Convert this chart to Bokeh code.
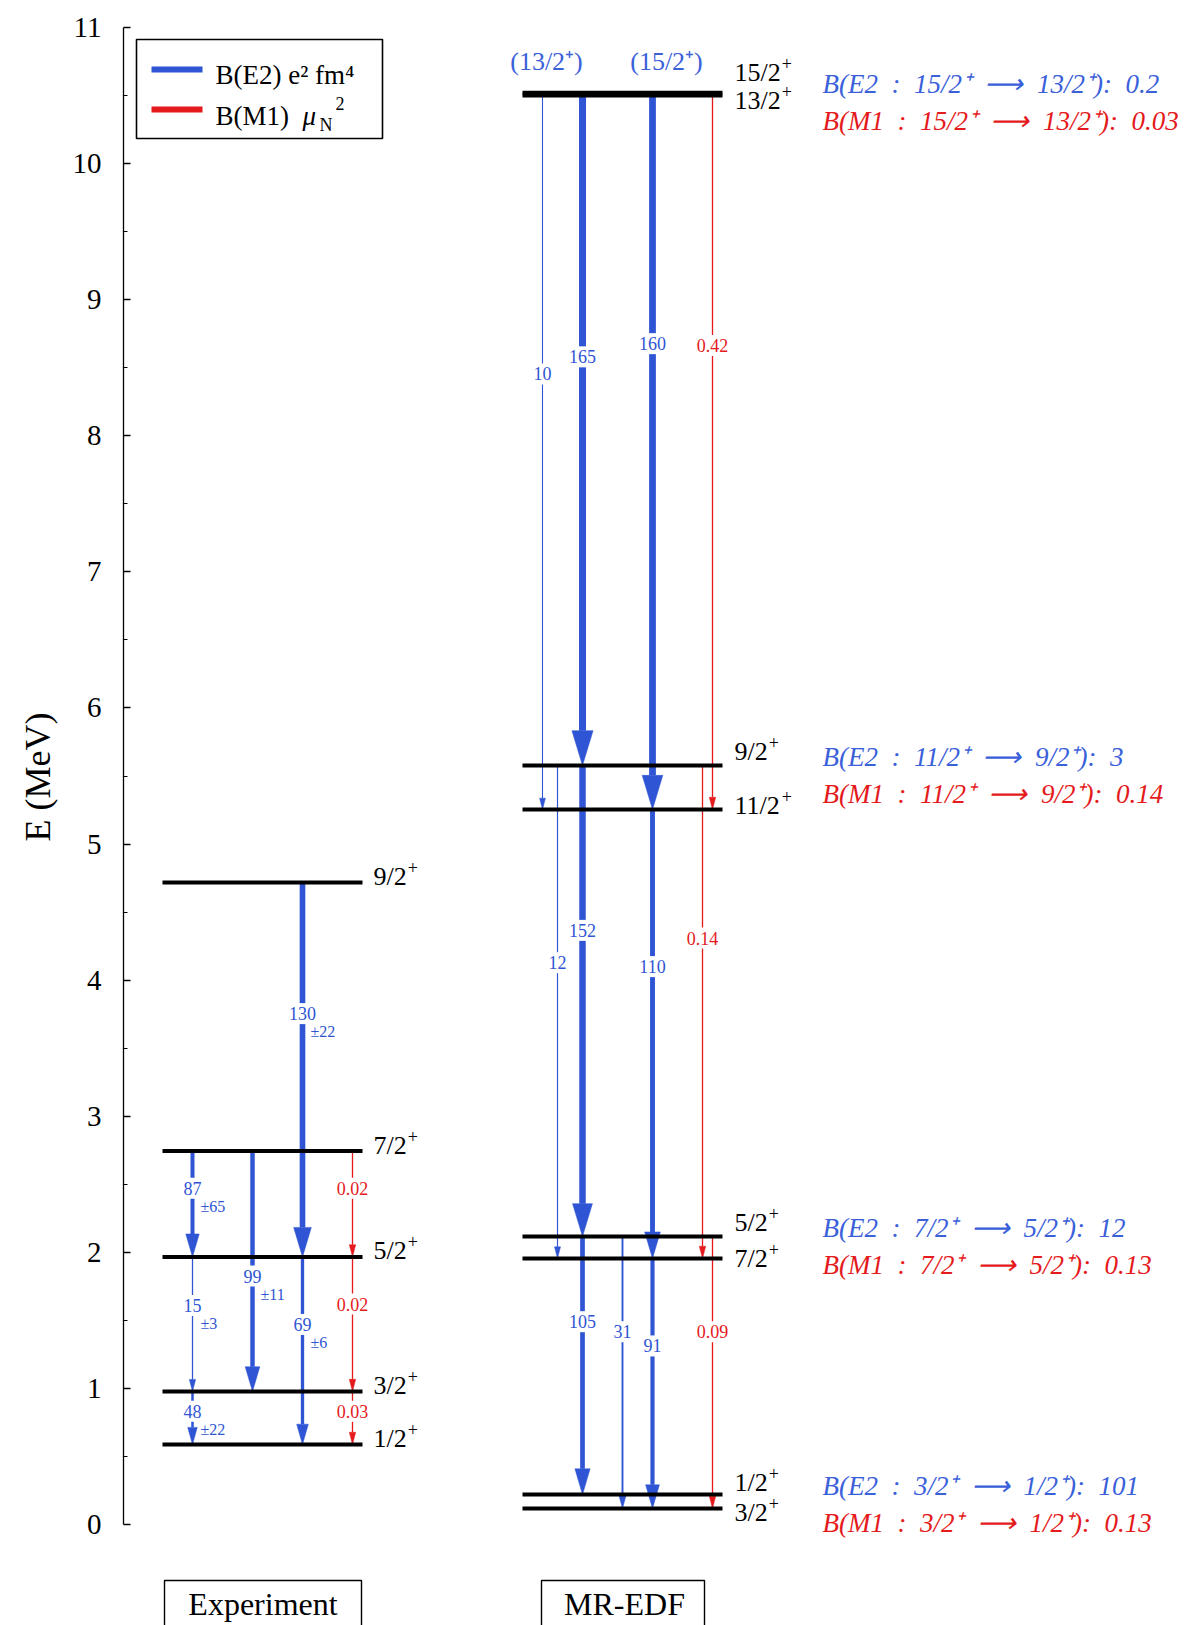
import math
from bokeh.plotting import figure
from bokeh.models import ColumnDataSource, Range1d, FixedTicker, Title
from bokeh.embed import file_html
from bokeh.resources import INLINE
from bokeh.core.properties import value

# ---------------- data ----------------
exp_levels = ["1/2", "3/2", "5/2", "7/2", "9/2"]
exp_energy = [0.588, 0.977, 1.966, 2.744, 4.717]

mr_levels = ["3/2", "1/2", "7/2", "5/2", "11/2", "9/2", "13/2", "15/2"]
mr_energy = [0.118, 0.220, 1.955, 2.116, 5.254, 5.577, 10.50, 10.52]

exp_from = ["9/2", "7/2", "7/2", "7/2", "5/2", "5/2", "5/2", "3/2", "3/2"]
exp_to = ["5/2", "5/2", "3/2", "5/2", "3/2", "1/2", "3/2", "1/2", "1/2"]
exp_type = ["E2", "E2", "E2", "M1", "E2", "E2", "M1", "E2", "M1"]
exp_value = ["130", "87", "99", "0.02", "15", "69", "0.02", "48", "0.03"]
exp_error = ["±22", "±65", "±11", "", "±3", "±6", "", "±22", ""]

mr_from = ["13/2", "13/2", "15/2", "13/2", "9/2", "9/2", "11/2", "9/2", "5/2", "5/2", "7/2", "5/2"]
mr_to = ["11/2", "9/2", "11/2", "11/2", "7/2", "5/2", "7/2", "7/2", "1/2", "3/2", "3/2", "3/2"]
mr_type = ["E2", "E2", "E2", "M1", "E2", "E2", "E2", "M1", "E2", "E2", "E2", "M1"]
mr_value = ["10", "165", "160", "0.42", "12", "152", "110", "0.14", "105", "31", "91", "0.09"]

ann_initial = ["15/2", "11/2", "7/2", "3/2"]
ann_final = ["13/2", "9/2", "5/2", "1/2"]
ann_be2 = ["0.2", "3", "12", "101"]
ann_bm1 = ["0.03", "0.14", "0.13", "0.13"]

header_levels = ["13/2", "15/2"]

# ---------------- layout / style ----------------
BLUE = "#2F55D4"
BLUE_T = "#3A60DA"
RED = "#E41A1C"
FONT = value("Liberation Serif")
W, H = 1190, 1625

YPIX = 136.09          # pixels per MeV
Y0_PAGE = 1524         # page y of E = 0
X0_PAGE = 123          # page x of frame left


def py(page_y):
    return (Y0_PAGE - page_y) / YPIX


def px(page_x):
    return page_x - X0_PAGE


E_TOP, E_BOT = py(0), py(H)

exp_x = (px(162), px(362))
mr_x = (px(522), px(722))
exp_lanes = [px(v) for v in (302, 192, 252, 352, 192, 302, 352, 192, 352)]
mr_lanes = [px(v) for v in (542, 582, 652, 712, 557, 582, 652, 702, 582, 622, 652, 712)]
exp_frac = [0.35, 0.35, 0.52, 0.35, 0.36, 0.36, 0.35, 0.37, 0.37]
mr_frac = [0.39, 0.39, 0.35, 0.35, 0.40, 0.35, 0.35, 0.35, 0.33, 0.35, 0.35, 0.35]
# vertical offset (px) of each level label's centre relative to its level line
mr_label_dy = {"15/2": -20, "13/2": 5, "9/2": -14, "11/2": -4, "5/2": -14, "7/2": 0, "1/2": -12, "3/2": 4}
EXP_LABEL_DY = -6

p = figure(width=W, height=H, x_range=Range1d(0, W - X0_PAGE), y_range=Range1d(E_BOT, E_TOP),
           output_backend="svg", toolbar_location=None, x_axis_location=None,
           min_border_left=X0_PAGE, min_border_right=0, min_border_top=0, min_border_bottom=0)
p.grid.visible = False
p.outline_line_color = None
p.background_fill_color = "white"

ax = p.yaxis[0]
ax.ticker = FixedTicker(ticks=list(range(12)), minor_ticks=[i + 0.5 for i in range(11)])
ax.bounds = (0, 11)
ax.major_tick_in = 7
ax.major_tick_out = 0
ax.minor_tick_in = 4
ax.minor_tick_out = 0
ax.axis_line_width = 1.3
ax.major_tick_line_width = 1.3
ax.minor_tick_line_width = 1.1
ax.major_label_standoff = 22
ax.major_label_text_font = "Liberation Serif"
ax.major_label_text_font_size = "29px"
ax.major_label_text_color = "black"

ylab = Title(text="E (MeV)", align="right", offset=712, vertical_align="bottom", standoff=24,
             text_font="Liberation Serif", text_font_size="36px", text_font_style="normal",
             text_color="black")
p.add_layout(ylab, "left")


def transitions(E, frm, to, typ, val, lanes, fracs, err=None):
    d = dict(x=[], y0=[], y1=[], lw=[], col=[], hx=[], hy=[], ly=[], txt=[], err=[], ex=[], bw=[])
    for i, (f, t, ty, v, lane, fr) in enumerate(zip(frm, to, typ, val, lanes, fracs)):
        e0, e1 = E[f], E[t]
        num = float(v)
        lw = 0.7 + 0.038 * num if ty == "E2" else 1.3
        hw = 2.6 * lw + 3
        hl = (4 * lw + 7) / YPIX
        col = BLUE if ty == "E2" else RED
        d["x"].append(lane)
        d["y0"].append(e0)
        d["y1"].append(e1 + hl)
        d["lw"].append(lw)
        d["col"].append(col)
        d["hx"].append([lane - hw / 2, lane + hw / 2, lane])
        d["hy"].append([e1 + hl, e1 + hl, e1])
        d["ly"].append(e0 + fr * (e1 - e0))
        d["txt"].append(v)
        d["err"].append(err[i] if err else "")
        d["ex"].append(lane + 8)
        d["bw"].append(len(v) * 9 + 4)
    return ColumnDataSource(d)


exp_E = dict(zip(exp_levels, exp_energy))
mr_E = dict(zip(mr_levels, mr_energy))

for src in (transitions(exp_E, exp_from, exp_to, exp_type, exp_value, exp_lanes, exp_frac, exp_error),
            transitions(mr_E, mr_from, mr_to, mr_type, mr_value, mr_lanes, mr_frac)):
    p.segment(x0="x", y0="y0", x1="x", y1="y1", line_width="lw", line_color="col", source=src)
    p.patches(xs="hx", ys="hy", fill_color="col", line_color="col", line_width=0.5, source=src)
    p.rect(x="x", y="ly", width="bw", height=21, width_units="screen", height_units="screen",
           fill_color="white", line_color=None, source=src)
    p.text(x="x", y="ly", text="txt", text_color="col", text_font=FONT, text_font_size="18px",
           text_align="center", text_baseline="middle", source=src)
    p.text(x="ex", y="ly", text="err", text_color="col", text_font=FONT, text_font_size="16px",
           text_align="left", text_baseline="middle", y_offset=18, source=src)

# levels
LFS = 26
names = exp_levels + mr_levels
lab_x = [exp_x[1] + 11] * len(exp_levels) + [mr_x[1] + 12] * len(mr_levels)
lab_dy = [EXP_LABEL_DY] * len(exp_levels) + [mr_label_dy[s] for s in mr_levels]
lab_w = [LFS * (0.5 * (len(s) - 1) + 0.278) for s in names]
lev = ColumnDataSource(dict(
    x0=[exp_x[0]] * len(exp_levels) + [mr_x[0]] * len(mr_levels),
    x1=[exp_x[1]] * len(exp_levels) + [mr_x[1]] * len(mr_levels),
    y=exp_energy + mr_energy,
    lx=lab_x,
    px=[a + w + 1 for a, w in zip(lab_x, lab_w)],
    txt=names,
    plus=["+"] * len(names),
    dy=lab_dy,
    pdy=[d - 9 for d in lab_dy],
))
p.segment(x0="x0", y0="y", x1="x1", y1="y", line_width=4, line_color="black", source=lev)
p.text(x="lx", y="y", text="txt", y_offset="dy", text_font=FONT, text_font_size=f"{LFS}px",
       text_align="left", text_baseline="middle", text_color="black", source=lev)
p.text(x="px", y="y", text="plus", y_offset="pdy", text_font=FONT, text_font_size="18px",
       text_align="left", text_baseline="middle", text_color="black", source=lev)

# column headers
hdr = ColumnDataSource(dict(x=[px(546), px(666)], y=[mr_E[s] for s in header_levels],
                            txt=["(" + s + "⁺)" for s in header_levels], dy=[-34, -31]))
p.text(x="x", y="y", text="txt", y_offset="dy", text_font=FONT, text_font_size="26px",
       text_align="center", text_baseline="middle", text_color=BLUE_T, source=hdr)

# side annotations
SP = "\u2002"
ay = [max(mr_E[a], mr_E[b]) for a, b in zip(ann_initial, ann_final)]
ann = ColumnDataSource(dict(
    x=[px(822)] * 8,
    y=ay + ay,
    dy=[-9] * 4 + [28] * 4,
    txt=[f"B(E2{SP}:{SP}{a}⁺{SP}⟶{SP}{b}⁺):{SP}{v}" for a, b, v in zip(ann_initial, ann_final, ann_be2)] +
        [f"B(M1{SP}:{SP}{a}⁺{SP}⟶{SP}{b}⁺):{SP}{v}" for a, b, v in zip(ann_initial, ann_final, ann_bm1)],
    col=[BLUE_T] * 4 + [RED] * 4,
))
p.text(x="x", y="y", text="txt", y_offset="dy", text_color="col", text_font=FONT,
       text_font_size="27px", text_font_style="italic", text_align="left",
       text_baseline="middle", source=ann)

# legend (drawn by hand)
p.quad(left=[px(136)], right=[px(382)], top=[py(39)], bottom=[py(138)],
       fill_color="white", line_color="black", line_width=1.6)
p.segment(x0=[px(151), px(151)], x1=[px(202), px(202)], y0=[py(69), py(109)], y1=[py(69), py(109)],
          line_color=[BLUE, RED], line_width=6)
p.text(x=[px(215), px(215)], y=[py(74), py(115)], text=["B(E2) e² fm⁴", "B(M1)"],
       text_font=FONT, text_font_size="27px", text_baseline="middle", text_color="black")
p.text(x=[px(302)], y=[py(115)], text=["μ"], text_font=FONT, text_font_size="27px",
       text_font_style="italic", text_baseline="middle", text_color="black")
p.text(x=[px(319), px(335)], y=[py(124), py(103)], text=["N", "2"], text_font=FONT,
       text_font_size="18px", text_baseline="middle", text_color="black")

# column name boxes
p.quad(left=[px(164), px(541)], right=[px(361), px(704)], top=[py(1580)] * 2, bottom=[E_BOT - 1] * 2,
       fill_color=None, line_color="black", line_width=1.4)
p.text(x=[px(262.5), px(624)], y=[py(1603)] * 2, text=["Experiment", "MR-EDF"], text_font=FONT,
       text_font_size="32px", text_align="center", text_baseline="middle", text_color="black")

open("out.html", "w").write(file_html(p, INLINE))
